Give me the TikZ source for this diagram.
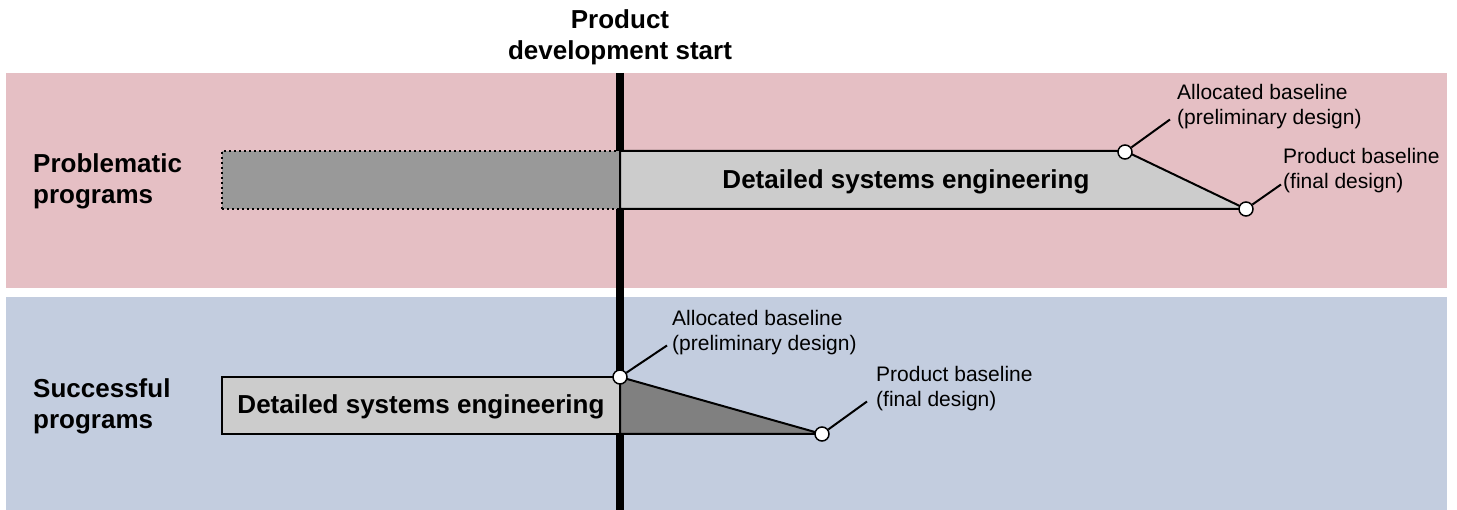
\documentclass[tikz,border=0pt]{standalone}
\usepackage{fontspec}
\setmainfont{Liberation Sans}
\usetikzlibrary{positioning}
\definecolor{probband}{HTML}{E5BFC4}
\definecolor{succband}{HTML}{C3CDDF}
\tikzstyle{phase} = [draw, line width=2pt, fill=black!20]
\tikzstyle{milestone} = [circle, draw, line width=1.5pt, fill=white, inner sep=0pt, minimum size=14pt]
\tikzstyle{note} = [align=left, inner sep=0pt, anchor=west, font=\fontsize{21}{25}\selectfont]
\tikzset{
  leader/.style ={draw, line width=2pt},
  bigtext/.style={font=\fontsize{26}{31}\selectfont\bfseries},
  rowlabel/.style={bigtext, align=left, inner sep=0pt, anchor=west}
}

\begin{document}
\begin{tikzpicture}[x=1pt,y=-1pt]
  \useasboundingbox (0,0) rectangle (1457,510);
  % bands
  \fill[probband] (6,73) rectangle (1447,288);
  \fill[succband] (6,297) rectangle (1447,510);

  \node[bigtext, align=center] (devstart) at (620,37) {Product\\development start};
  \coordinate (devtop) at (620,73);
  \coordinate (devbot) at (620,510);
  \draw[line width=8pt] (devtop) -- (devbot);

  \node[rowlabel] (prob) at (33,181) {Problematic\\programs};
  \node[rowlabel] (succ) at (33,406) {Successful\\programs};

  % problematic programs
  \node[phase, fill=black!40, dash pattern=on 2pt off 3pt, inner sep=0pt,
        minimum width=398pt, minimum height=58pt] (pre) at (421,180) {};
  \draw[phase] (620,151) -- (1125,151) -- (1246,209) -- (620,209) -- cycle;
  \node[bigtext] (pdse) at (906,182) {Detailed systems engineering};
  \node[milestone] (pab) at (1125,152) {};
  \node[milestone] (ppb) at (1246,209) {};
  \node[note] (pabl) at (1177,107) {Allocated baseline\\(preliminary design)};
  \node[note] (ppbl) at (1283,171) {Product baseline\\(final design)};

  % successful programs
  \node[phase, bigtext, inner sep=0pt, minimum width=398pt,
        minimum height=57pt] (sdse) at (421,405.5) {};
  \node[bigtext] (sdset) at (421,407) {Detailed systems engineering};
  \draw[phase, fill=black!50] (620,377) -- (822,434) -- (620,434) -- cycle;
  \node[milestone] (sab) at (620,377) {};
  \node[milestone] (spb) at (822,434) {};
  \node[note] (sabl) at (672,333) {Allocated baseline\\(preliminary design)};
  \node[note] (spbl) at (876,389) {Product baseline\\(final design)};

  \begin{scope}[every path/.style=leader]
    \path (pab) -- ([xshift=-7pt,yshift=10pt]pabl.south west);
    \path (ppb) -- ([xshift=-2pt,yshift=9pt]ppbl.south west);
    \path (sab) -- ([xshift=-5pt,yshift=10pt]sabl.south west);
    \path (spb) -- ([xshift=-9pt,yshift=10pt]spbl.south west);
  \end{scope}

\end{tikzpicture}
\end{document}
